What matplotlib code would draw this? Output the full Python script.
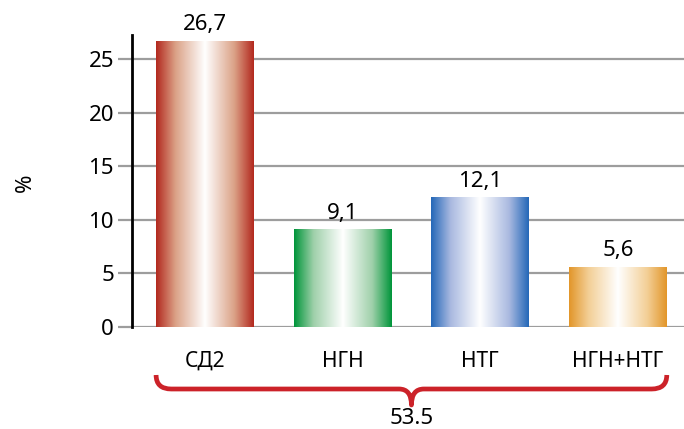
import matplotlib
matplotlib.use("Agg")
import matplotlib.pyplot as plt
import numpy as np
from matplotlib.colors import LinearSegmentedColormap
from matplotlib.path import Path
from matplotlib.patches import PathPatch
import matplotlib.transforms as mtransforms

plt.rcParams['font.family'] = ['Noto Sans', 'DejaVu Sans']

# data
categories = ['СД2', 'НГН', 'НТГ', 'НГН+НТГ']
values = [26.7, 9.1, 12.1, 5.6]
value_labels = ['26,7', '9,1', '12,1', '5,6']
total_label = '53.5'
yticks = [0, 5, 10, 15, 20, 25]

# edge / mid tones for the shaded bars
edge_colors = ['#b3291f', '#00953a', '#2468b8', '#e2962a']
mid_colors = ['#dba287', '#9fd0aa', '#a9b9e0', '#f3cf96']

fig = plt.figure(figsize=(6.84, 4.29), dpi=100)
ax = fig.add_axes([132 / 684, 1 - 327 / 429, 1 - 132 / 684, 327 / 429])

x = np.arange(len(categories))
width = 0.71
XLIM = (-0.53, 3.48)
YLIM = (0, 30.5)

# grid + axis styling
for t in yticks:
    ax.axhline(t, color='#9d9d9d', lw=1.6, zorder=1)
for s in ['top', 'right', 'bottom']:
    ax.spines[s].set_visible(False)
ax.spines['left'].set_linewidth(2)
ax.spines['left'].set_color('black')
ax.spines['left'].set_zorder(5)
ax.spines['left'].set_bounds(0, 27.2)
ax.set_yticks(yticks)
ax.set_yticklabels([str(t) for t in yticks], fontsize=16)
ax.tick_params(axis='y', length=10, width=1.6, color='#9d9d9d', pad=3)
ax.set_xticks(x)
ax.set_xticklabels(categories, fontsize=15)
ax.tick_params(axis='x', length=0, pad=17)

# bars with horizontal white-centre shading
grad = np.linspace(0, 1, 256).reshape(1, -1)
bars = ax.bar(x, values, width=width, color='none', edgecolor='none', zorder=2)
for i, b in enumerate(bars):
    cmap = LinearSegmentedColormap.from_list(
        'shade', [(0, edge_colors[i]), (0.2, mid_colors[i]), (0.5, 'white'),
                  (0.8, mid_colors[i]), (1, edge_colors[i])])
    x0 = b.get_x()
    im = ax.imshow(grad, extent=[x0, x0 + b.get_width(), 0, b.get_height()],
                   aspect='auto', cmap=cmap, zorder=3, interpolation='bilinear')
    im.set_clip_path(b)
    ax.annotate(value_labels[i], (x[i], values[i]), xytext=(0, 4),
                textcoords='offset points', ha='center', va='bottom',
                fontsize=16, zorder=6)

ax.set_xlim(*XLIM)
ax.set_ylim(*YLIM)

# brace under all categories
tr = mtransforms.blended_transform_factory(ax.transData, fig.transFigure)
xl = x[0] - width / 2
xr = x[-1] + width / 2
xc = (xl + xr) / 2
yl = 1 - 389 / 429
yt = 1 - 375 / 429
yb = 1 - 405 / 429
r = 0.11
r2 = 0.09
verts = [(xl, yt), (xl, yl), (xl + r, yl),
         (xc - r2, yl), (xc, yl), (xc, yb),
         (xc, yl), (xc + r2, yl),
         (xr - r, yl), (xr, yl), (xr, yt)]
codes = [Path.MOVETO, Path.CURVE3, Path.CURVE3,
         Path.LINETO, Path.CURVE3, Path.CURVE3,
         Path.CURVE3, Path.CURVE3,
         Path.LINETO, Path.CURVE3, Path.CURVE3]
brace = PathPatch(Path(verts, codes), transform=tr, facecolor='none',
                  edgecolor='#cc2229', lw=3.4, clip_on=False, capstyle='butt',
                  joinstyle='round')
fig.add_artist(brace)
ax.text(xc, 1 - 419 / 429, total_label, transform=tr, ha='center',
        va='center', fontsize=16, clip_on=False)

fig.text(25 / 684, 1 - 183 / 429, '%', rotation=90, ha='center', va='center', fontsize=16)

fig.savefig('out.png', dpi=100)
